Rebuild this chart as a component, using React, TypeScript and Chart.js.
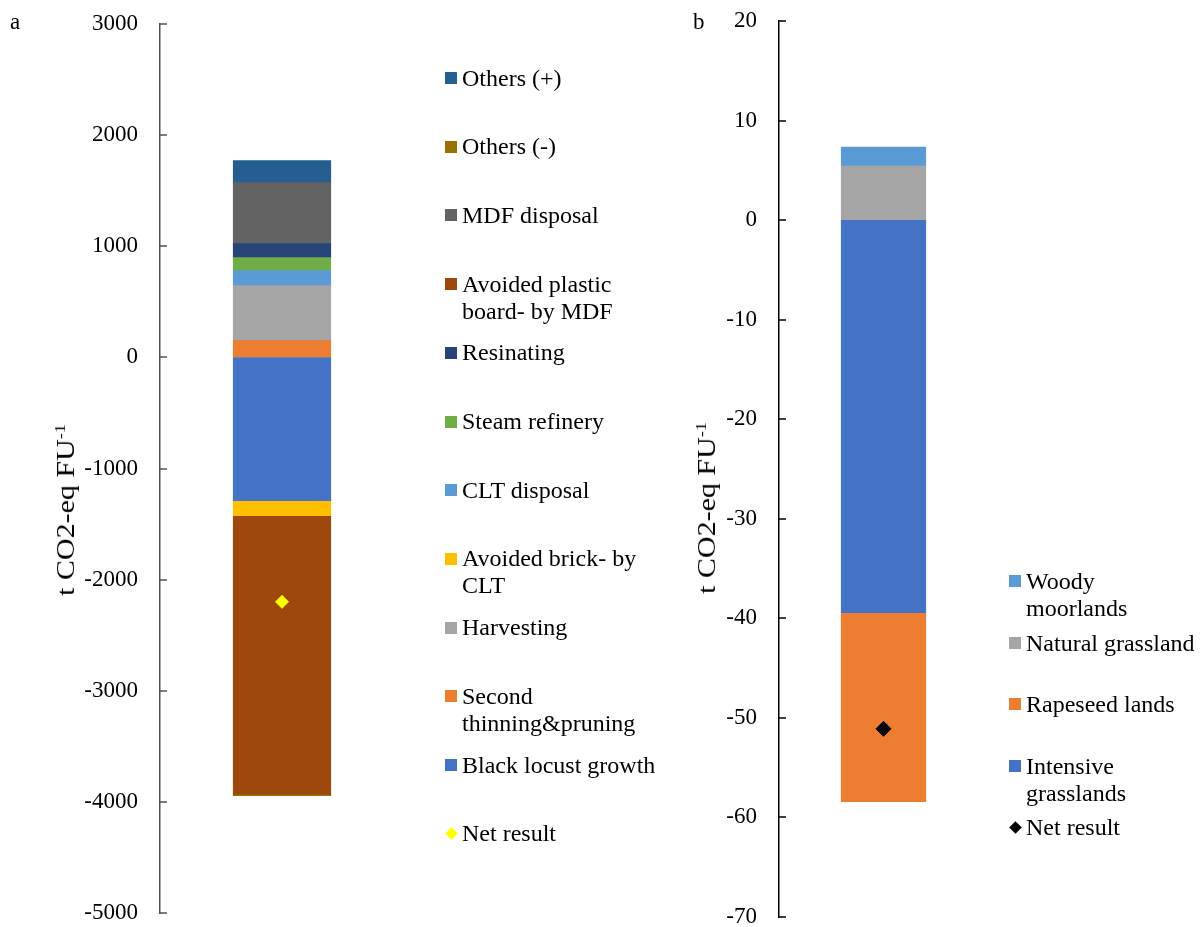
import React, { useEffect, useRef } from "react";
import { Chart, registerables } from "chart.js";
Chart.register(...registerables);

const FONT = "'Liberation Serif', 'Times New Roman', serif";

// ---------- Panel a data ----------
const categoriesA = [""];
const seriesNamesA = [
  "Black locust growth",
  "Second thinning&pruning",
  "Harvesting",
  "Avoided brick- by CLT",
  "CLT disposal",
  "Steam refinery",
  "Resinating",
  "Avoided plastic board- by MDF",
  "MDF disposal",
  "Others (-)",
  "Others (+)",
];
const seriesValuesA = [-1287, 148, 495, -135, 135, 117, 126, -2508, 549, -12, 198];
const seriesColorsA = [
  "#4472C4", "#ED7D31", "#A5A5A5", "#FFC000", "#5B9BD5", "#70AD47",
  "#264478", "#9E480E", "#636363", "#997300", "#255E91",
];
const netNameA = "Net result";
const netValuesA = [-2200];
const netColorA = "#FFFF00";
const yMinA = -5000;
const yMaxA = 3000;
const yStepA = 1000;
// legend order (top to bottom) with display lines
const legendA = [
  { name: "Others (+)", lines: ["Others (+)"] },
  { name: "Others (-)", lines: ["Others (-)"] },
  { name: "MDF disposal", lines: ["MDF disposal"] },
  { name: "Avoided plastic board- by MDF", lines: ["Avoided plastic", "board- by MDF"] },
  { name: "Resinating", lines: ["Resinating"] },
  { name: "Steam refinery", lines: ["Steam refinery"] },
  { name: "CLT disposal", lines: ["CLT disposal"] },
  { name: "Avoided brick- by CLT", lines: ["Avoided brick- by", "CLT"] },
  { name: "Harvesting", lines: ["Harvesting"] },
  { name: "Second thinning&pruning", lines: ["Second", "thinning&pruning"] },
  { name: "Black locust growth", lines: ["Black locust growth"] },
  { name: "Net result", lines: ["Net result"] },
];

// ---------- Panel b data ----------
const categoriesB = [""];
const seriesNamesB = ["Intensive grasslands", "Rapeseed lands", "Natural grassland", "Woody moorlands"];
const seriesValuesB = [-39.4, -19.0, 5.4, 1.9];
const seriesColorsB = ["#4472C4", "#ED7D31", "#A5A5A5", "#5B9BD5"];
const netNameB = "Net result";
const netValuesB = [-51.1];
const netColorB = "#000000";
const yMinB = -70;
const yMaxB = 20;
const yStepB = 10;
const legendB = [
  { name: "Woody moorlands", lines: ["Woody", "moorlands"] },
  { name: "Natural grassland", lines: ["Natural grassland"] },
  { name: "Rapeseed lands", lines: ["Rapeseed lands"] },
  { name: "Intensive grasslands", lines: ["Intensive", "grasslands"] },
  { name: "Net result", lines: ["Net result"] },
];

const innerTicks = {
  id: "innerTicks",
  afterDraw(chart: any, _args: any, opts: any) {
    const s = chart.scales.y;
    const ctx = chart.ctx;
    ctx.save();
    ctx.strokeStyle = opts.color || "#000";
    ctx.lineWidth = 1.5;
    s.ticks.forEach((_t: any, i: number) => {
      const y = Math.round(s.getPixelForTick(i));
      ctx.beginPath();
      ctx.moveTo(s.right, y);
      ctx.lineTo(s.right + 7, y);
      ctx.stroke();
    });
    ctx.restore();
  },
};

type PanelCfg = {
  categories: string[];
  names: string[];
  values: number[];
  colors: string[];
  netName: string;
  net: number[];
  netColor: string;
  netRadius: number;
  min: number;
  max: number;
  step: number;
  axisWidth: number;
  pad: { left: number; right: number; top: number; bottom: number };
  barPct: number;
  axisColor: string;
};

function Panel({ cfg, width, height }: { cfg: PanelCfg; width: number; height: number }) {
  const ref = useRef<HTMLCanvasElement>(null);
  useEffect(() => {
    if (!ref.current) return;
    const datasets: any[] = cfg.names.map((n, i) => ({
      type: "bar",
      label: n,
      data: [cfg.values[i]],
      backgroundColor: cfg.colors[i],
      borderWidth: 0,
      inflateAmount: 0.6,
      categoryPercentage: 1,
      barPercentage: cfg.barPct,
      order: 1,
    }));
    datasets.push({
      type: "line",
      label: cfg.netName,
      data: cfg.net,
      showLine: false,
      pointStyle: "rectRot",
      pointRadius: cfg.netRadius,
      pointBackgroundColor: cfg.netColor,
      pointBorderColor: cfg.netColor,
      pointBorderWidth: 1,
      stack: "net",
      order: 0,
    });
    const chart = new Chart(ref.current, {
      type: "bar",
      data: { labels: cfg.categories, datasets },
      plugins: [innerTicks],
      options: {
        animation: false,
        responsive: false,
        maintainAspectRatio: false,
        layout: { padding: cfg.pad },
        plugins: {
          legend: { display: false },
          tooltip: { enabled: false },
          innerTicks: { color: cfg.axisColor },
        } as any,
        scales: {
          x: { display: false, stacked: true },
          y: {
            stacked: true,
            min: cfg.min,
            max: cfg.max,
            ticks: {
              stepSize: cfg.step,
              padding: 22,
              color: "#000",
              font: { family: FONT, size: 23 },
              callback: (v: any) => String(v),
            },
            grid: { display: true, drawOnChartArea: false, drawTicks: false },
            border: { display: true, color: cfg.axisColor, width: 1.5 },
            afterFit: (s: any) => {
              s.width = cfg.axisWidth;
              s.paddingTop = 0;
              s.paddingBottom = 0;
            },
          },
        },
      },
    });
    return () => chart.destroy();
  }, []);
  return <canvas ref={ref} width={width} height={height} style={{ width, height, display: "block" }} />;
}

function Legend({
  items, colorOf, netColor, left, firstY, spacing, lineH, rowYs,
}: any) {
  return (
    <>
      {items.map((it: any, i: number) => {
        const cy = rowYs ? rowYs[i] : firstY + i * spacing;
        const isNet = it.name.startsWith("Net");
        return (
          <div key={i} style={{ position: "absolute", left, top: cy - lineH / 2, display: "flex", alignItems: "flex-start" }}>
            <div style={{ width: 17, height: lineH, position: "relative", flex: "none" }}>
              {isNet ? (
                <div style={{ position: "absolute", left: 1.5, top: lineH / 2 - 4.5, width: 9, height: 9, background: netColor, transform: "rotate(45deg)" }} />
              ) : (
                <div style={{ position: "absolute", left: 0, top: lineH / 2 - 6, width: 12, height: 12, background: colorOf(it.name) }} />
              )}
            </div>
            <div style={{ font: `24px ${FONT}`, lineHeight: `${lineH}px`, color: "#000", whiteSpace: "pre" }}>
              {it.lines.join("\n")}
            </div>
          </div>
        );
      })}
    </>
  );
}

function YTitle({ cx, cy }: { cx: number; cy: number }) {
  return (
    <div
      style={{
        position: "absolute",
        left: cx,
        top: cy,
        transform: "translate(-50%, -50%) rotate(-90deg) scaleX(1.2)",
        whiteSpace: "nowrap",
        font: `25px ${FONT}`,
        color: "#000",
        lineHeight: "28px",
      }}
    >
      t CO2-eq FU<sup style={{ fontSize: 15, verticalAlign: "9px" }}>-1</sup>
    </div>
  );
}

export default function App() {
  const cfgA: PanelCfg = {
    categories: categoriesA,
    names: seriesNamesA,
    values: seriesValuesA,
    colors: seriesColorsA,
    netName: netNameA,
    net: netValuesA,
    netColor: netColorA,
    netRadius: 6.5,
    min: yMinA,
    max: yMaxA,
    step: yStepA,
    axisWidth: 160,
    pad: { left: 0, right: 286, top: 24, bottom: 14 },
    barPct: 97 / 244,
    axisColor: "#505050",
  };
  const cfgB: PanelCfg = {
    categories: categoriesB,
    names: seriesNamesB,
    values: seriesValuesB,
    colors: seriesColorsB,
    netName: netNameB,
    net: netValuesB,
    netColor: netColorB,
    netRadius: 7.5,
    min: yMinB,
    max: yMaxB,
    step: yStepB,
    axisWidth: 89,
    pad: { left: 0, right: 215, top: 21, bottom: 10 },
    barPct: 84 / 209,
    axisColor: "#000",
  };
  const colorA = (n: string) => seriesColorsA[seriesNamesA.indexOf(n)];
  const colorB = (n: string) => seriesColorsB[seriesNamesB.indexOf(n)];
  return (
    <div style={{ position: "absolute", left: 0, top: 0, width: 1203, height: 927, background: "#fff", overflow: "hidden" }}>
      <div style={{ position: "absolute", left: 0, top: 0 }}>
        <Panel cfg={cfgA} width={690} height={927} />
      </div>
      <div style={{ position: "absolute", left: 690, top: 0 }}>
        <Panel cfg={cfgB} width={513} height={927} />
      </div>
      <div style={{ position: "absolute", left: 10, top: 9, font: `23px ${FONT}`, color: "#000" }}>a</div>
      <div style={{ position: "absolute", left: 693, top: 9, font: `23px ${FONT}`, color: "#000" }}>b</div>
      <YTitle cx={63} cy={510} />
      <YTitle cx={704} cy={508} />
      <Legend items={legendA} colorOf={colorA} netColor={netColorA} left={445} firstY={78} spacing={68.7} lineH={27} />
      <Legend items={legendB} colorOf={colorB} netColor={netColorB} left={1009} lineH={27} rowYs={[581, 643, 704, 766, 827]} />
    </div>
  );
}
